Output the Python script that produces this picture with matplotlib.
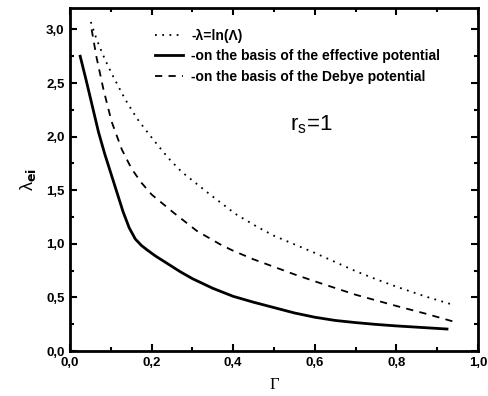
import matplotlib
matplotlib.use("Agg")
import matplotlib.pyplot as plt
from matplotlib.ticker import MultipleLocator, FuncFormatter

# значения
g_lnL = [0.051, 0.065, 0.08, 0.093, 0.106, 0.135, 0.164, 0.19, 0.213, 0.241, 0.274, 0.34, 0.405, 0.458, 0.5, 0.55, 0.6, 0.65, 0.7, 0.75, 0.8, 0.87, 0.94]
l_lnL = [3.07, 2.91, 2.77, 2.66, 2.56, 2.35, 2.17, 2.04, 1.93, 1.80, 1.67, 1.47, 1.28, 1.16, 1.075, 0.995, 0.915, 0.83, 0.745, 0.67, 0.60, 0.51, 0.43]

g_eff = [0.025, 0.04, 0.055, 0.07, 0.085, 0.10, 0.115, 0.13, 0.145, 0.16, 0.175, 0.19, 0.21, 0.237, 0.27, 0.3, 0.35, 0.4, 0.45, 0.5, 0.55, 0.6, 0.65, 0.7, 0.75, 0.8, 0.86, 0.924]
l_eff = [2.75, 2.52, 2.28, 2.04, 1.84, 1.66, 1.48, 1.30, 1.15, 1.045, 0.985, 0.94, 0.885, 0.82, 0.74, 0.675, 0.585, 0.51, 0.455, 0.405, 0.355, 0.315, 0.285, 0.265, 0.248, 0.234, 0.22, 0.205]

g_deb = [0.053, 0.065, 0.082, 0.102, 0.127, 0.151, 0.175, 0.2, 0.254, 0.311, 0.368, 0.4, 0.45, 0.5, 0.55, 0.6, 0.7, 0.8, 0.87, 0.949]
l_deb = [3.0, 2.74, 2.44, 2.14, 1.88, 1.70, 1.57, 1.46, 1.29, 1.12, 0.995, 0.935, 0.855, 0.785, 0.715, 0.65, 0.525, 0.42, 0.35, 0.265]

labels = ["-\u03bb=ln(\u039b)",
          "-on the basis of the effective potential",
          "-on the basis of the Debye potential"]

plt.rcParams['font.family'] = ['Liberation Sans', 'DejaVu Sans']

fig = plt.figure(figsize=(4.88, 3.96), dpi=100)
ax = fig.add_axes([70/488, 45/396, 408/488, 343/396])

ax.plot(g_lnL, l_lnL, color='black', linestyle=(0, (1, 3)), linewidth=1.3, label=labels[0])
ax.plot(g_eff, l_eff, color='black', linestyle='-', linewidth=2.0, label=labels[1])
ax.plot(g_deb, l_deb, color='black', linestyle=(0, (4, 3.5)), linewidth=1.3, label=labels[2])

ax.set_xlim(0, 1.0)
ax.set_ylim(0, 3.2)

ax.xaxis.set_major_locator(MultipleLocator(0.2))
ax.xaxis.set_minor_locator(MultipleLocator(0.1))
ax.yaxis.set_major_locator(MultipleLocator(0.5))
ax.yaxis.set_minor_locator(MultipleLocator(0.25))
comma = FuncFormatter(lambda v, p: ("%.1f" % v).replace('.', ','))
ax.xaxis.set_major_formatter(comma)
ax.yaxis.set_major_formatter(comma)

ax.tick_params(which='both', direction='in', top=True, right=True, width=1.5)
ax.tick_params(which='major', length=5, labelsize=9.5, pad=4)
ax.tick_params(which='minor', length=3)
for lb in ax.get_xticklabels() + ax.get_yticklabels():
    lb.set_fontweight('bold')
for s in ax.spines.values():
    s.set_linewidth(2)

ax.set_xlabel("\u0393", family='Liberation Serif', fontsize=12, labelpad=6)
ax.set_ylabel(r"$\mathregular{\lambda_{\mathbf{ei}}}$", fontsize=13, labelpad=6)

leg = ax.legend(loc='upper left', bbox_to_anchor=((155-70)/408, (351-29)/343),
                frameon=False, borderaxespad=0, borderpad=0,
                handlelength=2.0, handletextpad=0.6, labelspacing=0.45,
                prop={'weight': 'bold', 'size': 10})

ax.text(0.54, 0.66, "r$_\\mathregular{s}$=1", transform=ax.transAxes,
        fontsize=16, ha='left', va='center')

fig.savefig("out.png", dpi=100)
